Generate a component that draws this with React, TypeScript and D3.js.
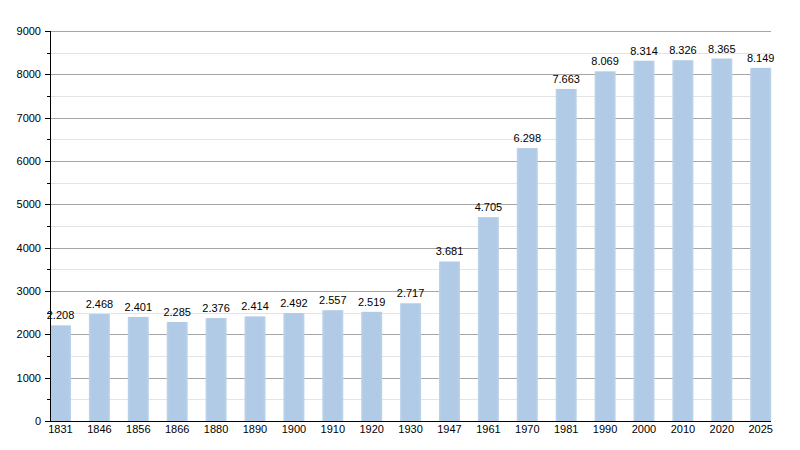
import React from "react";
import * as d3 from "d3";

const years = ["1831","1846","1856","1866","1880","1890","1900","1910","1920","1930","1947","1961","1970","1981","1990","2000","2010","2020","2025"];
const population = [2208,2468,2401,2285,2376,2414,2492,2557,2519,2717,3681,4705,6298,7663,8069,8314,8326,8365,8149];
const majorTicks = [0,1000,2000,3000,4000,5000,6000,7000,8000,9000];
const minorTicks = [500,1500,2500,3500,4500,5500,6500,7500,8500];

const W = 800, H = 450;
const left = 50, top = 31, bottom = 421, axisRight = 771;
const step = 38.9;

export default function App() {
  const x = d3.scaleBand<string>().domain(years).range([left, left + step * years.length]).paddingInner(0).paddingOuter(0);
  const y = d3.scaleLinear().domain([0, 9000]).range([bottom, top]);
  const barW = x.bandwidth() * 0.54;
  const fmt = d3.formatLocale({ decimal: ",", thousands: ".", grouping: [3], currency: ["", ""] }).format(",d");
  const font = "'Liberation Sans', Arial, sans-serif";
  return (
    <svg width={W} height={H} style={{ position: "absolute", left: 0, top: 0, background: "#fff" }} fontFamily={font}>
      <defs>
        <linearGradient id="barg" x1="0" x2="1" y1="0" y2="0">
          <stop offset="0" stopColor="#bcd3ea" />
          <stop offset="0.12" stopColor="#b1cbe6" />
          <stop offset="0.88" stopColor="#b1cbe6" />
          <stop offset="1" stopColor="#bcd3ea" />
        </linearGradient>
      </defs>
      {minorTicks.map((t) => (
        <g key={"m" + t}>
          <line x1={left} x2={axisRight} y1={Math.round(y(t)) + 0.5} y2={Math.round(y(t)) + 0.5} stroke="#e4e4e4" />
          <line x1={left - 3} x2={left} y1={Math.round(y(t)) + 0.5} y2={Math.round(y(t)) + 0.5} stroke="#000" />
        </g>
      ))}
      {majorTicks.map((t) => (
        <g key={"M" + t}>
          {t > 0 && <line x1={left} x2={axisRight} y1={Math.round(y(t)) + 0.5} y2={Math.round(y(t)) + 0.5} stroke="#a6a6a6" />}
          <line x1={left - 5} x2={left} y1={Math.round(y(t)) + 0.5} y2={Math.round(y(t)) + 0.5} stroke="#000" />
          <text x={41} y={y(t) + 4} textAnchor="end" fontSize={11} fill="#000">{t}</text>
        </g>
      ))}
      {years.map((yr, i) => {
        const bx = x(yr)!;
        const v = population[i];
        return (
          <g key={yr}>
            <rect x={bx} y={y(v)} width={barW} height={bottom - y(v)} fill="url(#barg)" />
            <text x={bx + barW / 2} y={y(v) - 6} textAnchor="middle" fontSize={11} fill="#000">{fmt(v)}</text>
            <text x={bx + barW / 2} y={bottom + 12} textAnchor="middle" fontSize={11} fill="#000">{yr}</text>
          </g>
        );
      })}
      <line x1={left + 0.5} x2={left + 0.5} y1={top} y2={bottom} stroke="#000" />
      <line x1={left} x2={axisRight} y1={bottom + 0.5} y2={bottom + 0.5} stroke="#000" />
    </svg>
  );
}
